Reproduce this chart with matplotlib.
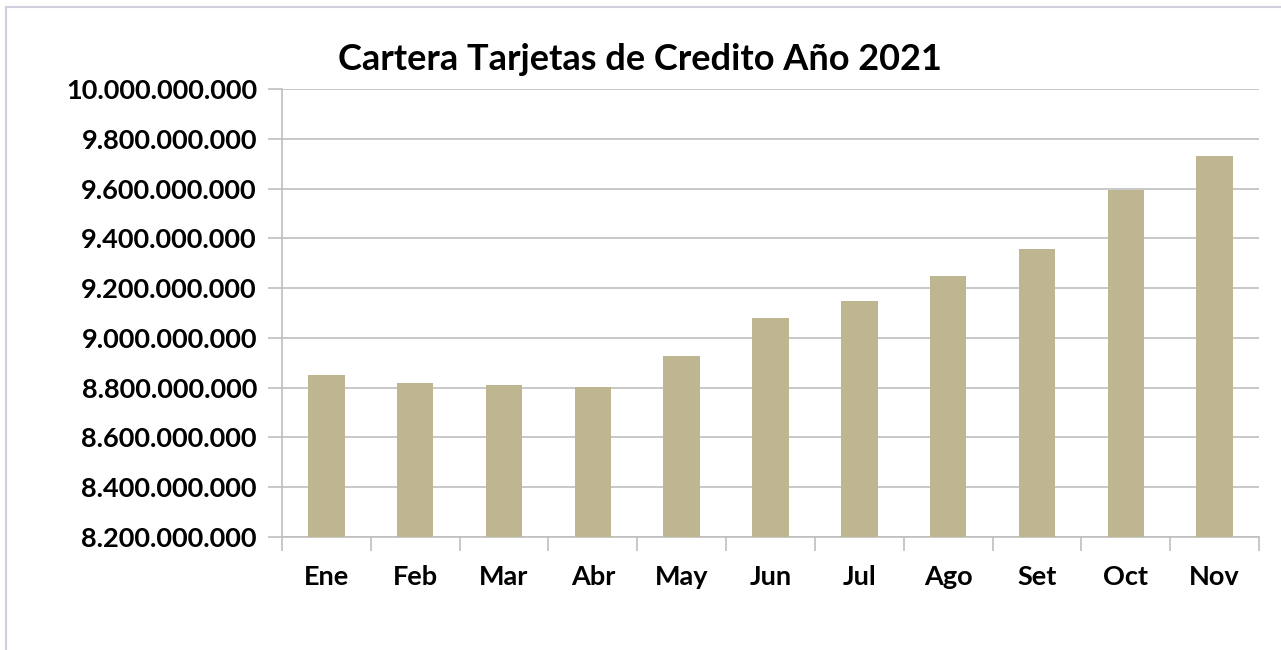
import matplotlib.pyplot as plt
from matplotlib.patches import Rectangle
from matplotlib.ticker import FuncFormatter, MultipleLocator

MONTHS = ["Ene", "Feb", "Mar", "Abr", "May", "Jun", "Jul", "Ago", "Set", "Oct", "Nov"]
SALDO = [8851000000, 8819000000, 8811000000, 8803000000, 8927000000, 9080000000,
         9148000000, 9249000000, 9357000000, 9596000000, 9731000000]
TITLE = "Cartera Tarjetas de Credito Año 2021"

BAR_COLOR = "#BEB591"
GRID_COLOR = "#BFBFBF"

plt.rcParams['font.family'] = ['Lato', 'DejaVu Sans']
plt.rcParams['font.weight'] = 'bold'

fig = plt.figure(figsize=(12.81, 6.5), dpi=100)
ax = fig.add_axes([282/1281, 1 - 537/650, (1259 - 282)/1281, (537 - 89)/650])

x = range(len(MONTHS))
ax.bar(x, SALDO, width=0.41, color=BAR_COLOR, zorder=3)

ax.set_ylim(8200000000, 10000000000)
ax.set_xlim(-0.5, len(MONTHS) - 0.5)
ax.yaxis.set_major_locator(MultipleLocator(200000000))
ax.yaxis.set_major_formatter(FuncFormatter(lambda v, p: f"{int(round(v)):,}".replace(",", ".")))
ax.grid(axis='y', color=GRID_COLOR, linewidth=1.2, zorder=0)

ax.set_xticks([i - 0.5 for i in range(len(MONTHS) + 1)])
ax.set_xticklabels([])
ax.set_xticks(list(x), minor=True)
ax.set_xticklabels(MONTHS, minor=True, fontsize=19.5, fontweight='bold')
ax.tick_params(axis='x', which='major', length=10, color=GRID_COLOR, width=1.2)
ax.tick_params(axis='x', which='minor', length=0, pad=20)
ax.tick_params(axis='y', length=10, color=GRID_COLOR, width=1.2, labelsize=19.5, pad=8)

for side in ['top', 'right']:
    ax.spines[side].set_visible(False)
for side in ['left', 'bottom']:
    ax.spines[side].set_color(GRID_COLOR)
    ax.spines[side].set_linewidth(1.2)

fig.text(640/1281, 1 - 60/650, TITLE, ha='center', va='center', fontsize=26, fontweight='bold')

# light frame around the chart area
fig.patches.append(Rectangle((6/1281, -0.1), 1.1, 1 - 7/650 + 0.1, transform=fig.transFigure,
                             fill=False, edgecolor='#D0D0DC', linewidth=1.5))

fig.savefig("out.png", dpi=100, facecolor='white')
